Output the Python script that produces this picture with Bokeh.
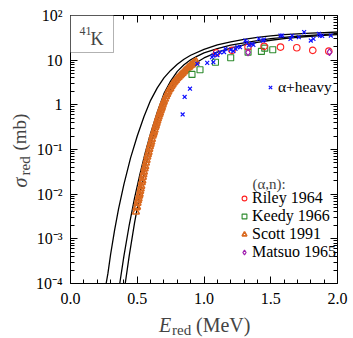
import math
from bokeh.plotting import figure
from bokeh.models import (Range1d, LinearAxis, LogAxis, FixedTicker, Label, BoxAnnotation,
                          Legend, LegendItem, PrintfTickFormatter)
from bokeh.embed import file_html
from bokeh.resources import INLINE

# ---------------- data ----------------
# theoretical curves (E_red in MeV, sigma_red in mb)
curve_a_e = [0.267, 0.28, 0.30, 0.33, 0.36, 0.40, 0.45, 0.50, 0.55, 0.60, 0.65, 0.70, 0.75, 0.80,
             0.85, 0.90, 1.0, 1.1, 1.2, 1.3, 1.4, 1.5, 1.6, 1.7, 1.8, 1.9, 2.0]
curve_a_s = [1.0e-4, 1.66e-4, 4.4e-4, 1.55e-3, 4.7e-3, 0.0166, 0.065, 0.20, 0.54, 1.26, 2.4, 4.0, 5.9, 8.1,
             10.5, 12.9, 17.4, 21.9, 25.7, 29.2, 32.4, 35.1, 37.2, 38.9, 40.3, 41.5, 42.7]

curve_b_e = [0.369, 0.40, 0.44, 0.48, 0.52, 0.56, 0.60, 0.65, 0.70, 0.75, 0.80, 0.85, 0.90, 0.95,
             1.0, 1.1, 1.2, 1.3, 1.4, 1.5, 1.6, 1.7, 1.8, 1.9, 2.0]
curve_b_s = [1.0e-4, 4.1e-4, 2.04e-3, 8.3e-3, 0.028, 0.085, 0.23, 0.68, 1.78, 3.4, 5.6, 7.9, 10.2, 12.3,
             14.5, 18.2, 21.6, 24.5, 27.5, 30.2, 32.4, 34.3, 35.9, 37.6, 38.9]

curve_c_e = [0.41, 0.44, 0.48, 0.52, 0.56, 0.60, 0.65, 0.70, 0.75, 0.80, 0.85, 0.90, 0.95,
             1.0, 1.1, 1.2, 1.3, 1.4, 1.5, 1.6, 1.7, 1.8, 1.9, 2.0]
curve_c_s = [1.0e-4, 4.2e-4, 2.3e-3, 0.0102, 0.040, 0.126, 0.44, 1.15, 2.3, 3.8, 5.5, 7.2, 9.1,
             11.2, 15.1, 18.6, 21.9, 25.1, 27.9, 30.2, 32.4, 34.3, 35.9, 37.2]

# (alpha,n) data
riley_e = [1.094, 1.21, 1.33, 1.45, 1.573, 1.695, 1.815, 1.935]
riley_s = [14.6, 16.6, 19.6, 20.4, 19.6, 19.0, 16.6, 15.9]

keedy_e = [0.91, 0.97, 1.086, 1.20, 1.33, 1.43, 1.455, 1.515]
keedy_s = [4.8, 6.1, 9.0, 11.3, 15.1, 15.7, 18.6, 17.1]

scott_e = [0.490, 0.494, 0.498, 0.502, 0.506, 0.510, 0.514, 0.518, 0.522, 0.526, 0.530, 0.534,
           0.538, 0.542, 0.546, 0.550, 0.555, 0.560, 0.565, 0.570, 0.575, 0.580, 0.585, 0.590,
           0.595, 0.600, 0.605, 0.610, 0.615, 0.620, 0.625, 0.630, 0.635, 0.640, 0.645, 0.650,
           0.655, 0.660, 0.665, 0.670, 0.675, 0.680, 0.685, 0.690, 0.695, 0.700, 0.708, 0.716,
           0.724, 0.732, 0.740, 0.748, 0.756, 0.764, 0.772, 0.780, 0.790, 0.800, 0.810, 0.820,
           0.830, 0.840, 0.850, 0.860, 0.870, 0.880, 0.890, 0.900, 0.910, 0.920, 0.930, 0.940]
scott_s = [0.0040, 0.0050, 0.0052, 0.0063, 0.0072, 0.0079, 0.0091, 0.0100, 0.0117, 0.0132, 0.0151, 0.0182,
           0.0200, 0.0240, 0.0275, 0.0316, 0.037, 0.042, 0.050, 0.058, 0.068, 0.078, 0.087, 0.102,
           0.117, 0.132, 0.148, 0.170, 0.20, 0.22, 0.245, 0.275, 0.316, 0.347, 0.39, 0.437,
           0.49, 0.54, 0.60, 0.66, 0.74, 0.81, 0.89, 1.00, 1.10, 1.20, 1.35, 1.55,
           1.74, 1.95, 2.19, 2.34, 2.63, 2.82, 3.09, 3.31, 3.55, 3.89, 4.17, 4.47,
           4.79, 5.13, 5.50, 5.89, 6.31, 6.76, 7.08, 7.59, 7.94, 8.51, 8.91, 9.33]

matsuo_e = [1.33, 1.94]
matsuo_s = [15.0, 15.2]

heavy_e = [0.84, 0.855, 0.895, 0.95, 1.024, 1.06, 1.07, 1.07, 1.085, 1.10, 1.12, 1.15, 1.16, 1.20,
           1.22, 1.236, 1.25, 1.27, 1.31, 1.32, 1.336, 1.36, 1.37, 1.41, 1.44, 1.45, 1.573, 1.586,
           1.648, 1.66, 1.71, 1.75, 1.80, 1.82, 1.86, 1.87, 1.885, 1.95]
heavy_s = [0.61, 1.5, 2.3, 8.3, 8.7, 11.7, 12.7, 9.0, 14.0, 13.0, 15.0, 15.2, 17.8, 17.1,
           16.0, 18.0, 19.5, 19.5, 27.5, 25.0, 21.4, 23.3, 22.0, 30.0, 27.5, 29.0, 35.5, 35.5,
           30.0, 35.0, 32.7, 42.7, 27.5, 30.0, 38.9, 35.5, 35.0, 35.5]

x_ticks = [0.0, 0.5, 1.0, 1.5, 2.0]
y_ticks = [1e-4, 1e-3, 1e-2, 1e-1, 1.0, 10.0, 100.0]
y_tick_labels = ["10\u207b\u2074", "10\u207b\u00b3", "10\u207b\u00b2", "10\u207b\u00b9", "1", "10", "10\u00b2"]

# ---------------- layout helpers (page pixels -> data) ----------------
W, H = 353, 338
FL, FR, FT, FB = 70.0, 337.0, 15.0, 283.0      # the drawn axes box, in page pixels
XMIN, XMAX = 0.0, 2.0
LMIN, LMAX = -4.0, 2.0


def dx(px):
    return XMIN + (px - FL) / (FR - FL) * (XMAX - XMIN)


def dy(py):
    return 10 ** (LMAX - (py - FT) / (FB - FT) * (LMAX - LMIN))


SERIF = "Liberation Serif"

# the frame covers the whole canvas; the axes are pinned to the data box with fixed_location
p = figure(width=W, height=H, x_range=Range1d(dx(0), dx(W)), y_range=Range1d(dy(H), dy(0)),
           y_axis_type="log", output_backend="svg", toolbar_location=None,
           min_border=0, min_border_left=0, min_border_right=0, min_border_top=0, min_border_bottom=0)
p.xgrid.visible = False
p.ygrid.visible = False
p.outline_line_color = None
p.background_fill_color = "white"
p.border_fill_color = "white"

minor_x = [round(0.1 * i, 2) for i in range(21) if i % 5 != 0]
minor_y = [m * 10 ** k for k in range(-4, 2) for m in range(2, 10)]


def style_axis(ax, labels=True):
    ax.axis_line_color = "black"
    ax.axis_line_width = 1
    ax.major_tick_in = 7
    ax.major_tick_out = 0
    ax.minor_tick_in = 4
    ax.minor_tick_out = 0
    ax.major_tick_line_color = "black"
    ax.minor_tick_line_color = "black"
    ax.major_label_text_font = SERIF
    if labels:
        ax.major_label_text_font_size = "16px"
        ax.major_label_text_color = "black"
    else:
        ax.major_label_text_font_size = "2px"
        ax.major_label_text_color = None
        ax.major_label_standoff = 0


xax = p.xaxis[0]
xax.ticker = FixedTicker(ticks=x_ticks, minor_ticks=minor_x)
xax.formatter = PrintfTickFormatter(format="%.1f")
xax.fixed_location = 10 ** LMIN
xax.bounds = (XMIN, XMAX)
style_axis(xax)
xax.major_label_standoff = 9

yax = p.yaxis[0]
yax.ticker = FixedTicker(ticks=y_ticks, minor_ticks=minor_y)
yax.major_label_overrides = {t: s for t, s in zip(y_ticks, y_tick_labels)}
yax.fixed_location = XMIN
yax.bounds = (10 ** LMIN, 10 ** LMAX)
style_axis(yax)
yax.major_label_standoff = 8

top = LinearAxis(ticker=FixedTicker(ticks=x_ticks, minor_ticks=minor_x), fixed_location=10 ** LMAX,
                 bounds=(XMIN, XMAX))
style_axis(top, labels=False)
p.add_layout(top, "above")
right = LogAxis(ticker=FixedTicker(ticks=y_ticks, minor_ticks=minor_y), fixed_location=XMAX,
                bounds=(10 ** LMIN, 10 ** LMAX))
style_axis(right, labels=False)
p.add_layout(right, "right")

# curves
for ce, cs in ((curve_a_e, curve_a_s), (curve_b_e, curve_b_s), (curve_c_e, curve_c_s)):
    p.line(ce, cs, line_color="black", line_width=1.3)

ORANGE = "#d9691f"
r_scott = p.scatter(scott_e, scott_s, marker="triangle", size=7, fill_color=None,
                    line_color=ORANGE, line_width=1.6)
r_keedy = p.scatter(keedy_e, keedy_s, marker="square", size=6, fill_color=None,
                    line_color="#2e8b2e", line_width=1.1)
r_riley = p.scatter(riley_e, riley_s, marker="circle", size=6.5, fill_color=None,
                    line_color="#ff2020", line_width=1.1)
r_heavy = p.scatter(heavy_e, heavy_s, marker="x", size=5.5, line_color="#1010ff", line_width=1.2)
r_matsuo = p.scatter(matsuo_e, matsuo_s, marker="diamond", size=7, fill_color=None,
                     line_color="#a020b0", line_width=1.2)

leg1 = Legend(items=[LegendItem(label="Riley 1964", renderers=[r_riley]),
                     LegendItem(label="Keedy 1966", renderers=[r_keedy]),
                     LegendItem(label="Scott 1991", renderers=[r_scott]),
                     LegendItem(label="Matsuo 1965", renderers=[r_matsuo])],
              location=(238, 77))
leg2 = Legend(items=[LegendItem(label="\u03b1+heavy", renderers=[r_heavy])], location=(264, 242))
for lg in (leg1, leg2):
    lg.glyph_width = 12
    lg.glyph_height = 14
    lg.label_standoff = 2
    lg.padding = 4
    lg.spacing = 0
    lg.label_height = 17
    lg.margin = 0
    lg.label_text_font = SERIF
    lg.label_text_font_size = "16px"
    lg.label_text_color = "black"
    lg.border_line_color = None
    lg.background_fill_alpha = 0
    p.add_layout(lg, "center")
leg2.label_text_font_size = "15.5px"

p.add_layout(Label(x=dx(252), y=dy(183), text="(\u03b1,n):", text_font=SERIF, text_font_size="15px",
                   text_baseline="middle", text_align="left"))

# 41K box
p.add_layout(BoxAnnotation(left=dx(FL), right=dx(113), bottom=dy(52), top=dy(FT), fill_color="white",
                           fill_alpha=1, line_color="black", line_width=1, level="annotation"))
p.add_layout(Label(x=dx(90), y=dy(38), text="K", text_font=SERIF, text_font_size="18px",
                   text_baseline="middle", text_align="left"))
p.add_layout(Label(x=dx(79), y=dy(30), text="41", text_font=SERIF, text_font_size="12px",
                   text_baseline="middle", text_align="left"))

# x axis label
p.add_layout(Label(x=dx(158.5), y=dy(324), text="E", text_font=SERIF, text_font_size="20px",
                   text_font_style="italic", text_baseline="middle", text_align="left"))
p.add_layout(Label(x=dx(171.5), y=dy(329), text="red", text_font=SERIF, text_font_size="15px",
                   text_baseline="middle", text_align="left"))
p.add_layout(Label(x=dx(195.5), y=dy(324), text="(MeV)", text_font=SERIF, text_font_size="20px",
                   text_baseline="middle", text_align="left"))

# y axis label (rotated)
p.add_layout(Label(x=dx(19), y=dy(187), text="\u03c3", text_font=SERIF, text_font_size="20px",
                   text_font_style="italic", text_baseline="middle", text_align="left",
                   angle=math.pi / 2))
p.add_layout(Label(x=dx(24), y=dy(175), text="red", text_font=SERIF, text_font_size="15px",
                   text_baseline="middle", text_align="left", angle=math.pi / 2))
p.add_layout(Label(x=dx(19), y=dy(150), text="(mb)", text_font=SERIF, text_font_size="19px",
                   text_baseline="middle", text_align="left", angle=math.pi / 2))

open("out.html", "w").write(file_html(p, INLINE))
